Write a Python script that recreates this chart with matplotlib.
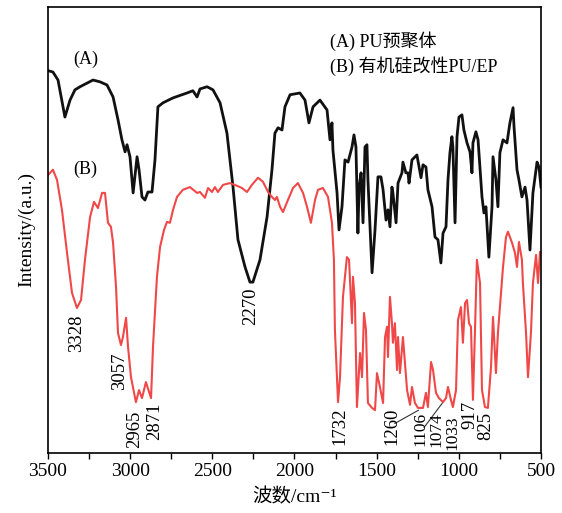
import matplotlib
matplotlib.use('Agg')
import matplotlib.pyplot as plt
import numpy as np

# FTIR spectra, wavenumber in cm^-1, intensity in arbitrary units
wn_a = [3500, 3470, 3439, 3397, 3366, 3336, 3305, 3226, 3184, 3141, 3104, 3074,
        3050, 3031, 3019, 3001, 2982, 2958, 2946, 2928, 2910, 2892, 2867, 2849,
        2831, 2800, 2739, 2654, 2618, 2593, 2575, 2532, 2496, 2453, 2411, 2374,
        2344, 2301, 2271, 2253, 2210, 2167, 2137, 2119, 2100, 2076, 2058, 2027,
        1967, 1936, 1912, 1887, 1845, 1802, 1784, 1772, 1766, 1741, 1729, 1711,
        1693, 1674, 1650, 1638, 1626, 1614, 1607, 1595, 1583, 1571, 1559, 1553,
        1528, 1510, 1492, 1474, 1461, 1443, 1431, 1419, 1407, 1401, 1382, 1370,
        1346, 1340, 1322, 1309, 1303, 1285, 1255, 1242, 1230, 1218, 1200, 1188,
        1163, 1145, 1127, 1109, 1096, 1078, 1066, 1054, 1042, 1036, 1023, 1011,
        999, 981, 969, 950, 932, 920, 914, 896, 883, 859, 847, 835, 817, 798,
        792, 774, 762, 750, 731, 707, 689, 670, 664, 646, 634, 616, 597, 585,
        567, 549, 524, 512, 500]
int_a = [85.7, 85.4, 83.6, 75.3, 79.1, 81.4, 82.1, 83.6, 83.2, 82.5, 79.8, 74.7,
         70.2, 67.5, 69.1, 66.4, 58.3, 66.4, 63.5, 57.4, 56.7, 58.5, 58.5, 65.7,
         77.6, 78.5, 79.6, 80.7, 81.2, 79.8, 81.6, 82.1, 81.4, 78.5, 71.7, 59.6,
         47.8, 41.7, 38.3, 38.3, 43.3, 52.9, 63.5, 71.7, 72.9, 72.4, 77.6, 80.3,
         80.7, 79.1, 74.0, 77.6, 79.1, 76.9, 70.2, 74.0, 67.9, 58.3, 50.0, 55.2,
         65.7, 65.2, 68.6, 71.3, 68.6, 49.3, 59.6, 62.8, 51.6, 68.6, 69.1, 61.2,
         40.4, 50.0, 61.9, 61.9, 59.0, 52.2, 54.5, 50.7, 59.6, 58.3, 51.6, 60.5,
         62.8, 65.2, 62.8, 62.8, 60.5, 65.7, 66.8, 64.1, 61.7, 64.6, 64.1, 59.0,
         55.2, 48.4, 47.8, 42.6, 49.3, 50.7, 61.2, 67.3, 70.9, 68.6, 51.6, 70.9,
         75.3, 75.8, 72.4, 69.5, 67.5, 62.8, 69.5, 72.0, 70.2, 57.4, 53.8, 55.2,
         43.9, 55.2, 66.4, 61.2, 55.2, 67.3, 70.2, 69.5, 74.0, 77.4, 73.1, 63.5,
         61.2, 57.4, 59.6, 56.7, 45.5, 58.3, 65.2, 64.1, 59.6]

wn_b = [3500, 3470, 3445, 3415, 3384, 3354, 3324, 3299, 3275, 3244, 3220, 3196,
        3171, 3153, 3135, 3117, 3104, 3086, 3074, 3056, 3044, 3025, 3013, 2995,
        2965, 2946, 2928, 2904, 2873, 2861, 2837, 2818, 2794, 2776, 2758, 2739,
        2715, 2679, 2636, 2593, 2575, 2545, 2526, 2502, 2484, 2466, 2435, 2393,
        2350, 2320, 2289, 2259, 2222, 2192, 2161, 2137, 2119, 2107, 2088, 2070,
        2040, 2009, 1979, 1948, 1924, 1900, 1875, 1857, 1827, 1796, 1772, 1760,
        1754, 1735, 1723, 1705, 1681, 1668, 1650, 1644, 1632, 1620, 1601, 1589,
        1577, 1565, 1553, 1528, 1510, 1498, 1480, 1461, 1449, 1437, 1431, 1419,
        1407, 1401, 1389, 1376, 1370, 1358, 1340, 1328, 1315, 1297, 1285, 1267,
        1248, 1218, 1200, 1188, 1169, 1157, 1139, 1121, 1096, 1078, 1066, 1048,
        1036, 1017, 1005, 987, 975, 962, 950, 938, 926, 914, 902, 890, 871, 859,
        841, 823, 804, 792, 774, 762, 743, 731, 713, 701, 676, 658, 646, 634,
        616, 610, 591, 579, 561, 549, 530, 518, 506, 500]
int_b = [62.3, 63.5, 61.2, 54.5, 44.8, 35.9, 32.5, 34.3, 43.3, 52.9, 56.3, 54.9,
         58.3, 58.3, 51.6, 50.7, 47.1, 37.2, 26.9, 24.2, 26.0, 30.3, 23.8, 17.0,
         11.4, 14.1, 12.3, 15.9, 12.3, 23.8, 39.5, 46.2, 50.0, 51.8, 51.6, 54.5,
         57.4, 59.0, 59.6, 58.3, 58.5, 57.2, 59.4, 58.5, 59.6, 58.5, 60.1, 60.5,
         59.9, 59.4, 58.5, 60.1, 61.7, 60.8, 58.5, 57.4, 56.7, 57.4, 55.2, 54.0,
         56.7, 59.4, 60.5, 58.3, 55.2, 51.6, 56.7, 59.0, 59.4, 57.4, 51.6, 43.3,
         27.6, 11.4, 17.0, 35.0, 43.9, 43.3, 29.1, 39.5, 33.6, 10.3, 22.4, 17.0,
         31.4, 27.6, 11.2, 10.1, 9.6, 17.9, 14.8, 11.2, 26.0, 28.3, 21.5, 35.0,
         29.1, 24.7, 29.1, 18.6, 26.0, 17.9, 26.0, 20.2, 14.1, 10.8, 14.8, 11.2,
         10.1, 10.1, 13.5, 10.3, 20.4, 18.6, 13.5, 12.3, 11.4, 12.3, 14.8, 11.9,
         10.3, 14.1, 29.8, 32.7, 24.7, 33.6, 34.3, 29.1, 28.3, 11.9, 26.9, 43.3,
         38.1, 14.1, 10.3, 10.1, 19.3, 30.5, 17.9, 26.9, 35.9, 41.7, 48.4, 49.6,
         47.1, 44.8, 41.7, 47.3, 43.3, 38.1, 26.9, 17.0, 26.9, 38.1, 44.4, 38.1,
         45.1, 44.4]

# peak labels: text, label centre, label top, curve point for a leader (or None)
peak_labels = ['3328', '3057', '2965', '2871', '2270', '1732', '1260',
               '1106', '1074', '1033', '917', '825']
label_x = [3324, 3062, 2975, 2850, 2265, 1725, 1410, 1232, 1135, 1038, 930, 835]
label_y = [31.0, 22.6, 9.4, 11.4, 37.0, 10.3, 10.1, 9.2, 9.2, 8.5, 11.6, 9.2]
leader_to = [None, None, None, None, None, None, (1245, 9.6), (1100, 11.2),
             None, None, None, None]

plt.rcParams['font.family'] = ['Liberation Serif', 'Noto Sans CJK SC', 'DejaVu Serif']
plt.rcParams['font.size'] = 14

fig = plt.figure(figsize=(5.62, 5.13), dpi=100)
ax = fig.add_axes([0.0854, 0.117, 0.8772, 0.8696])

ax.plot(wn_a, int_a, color='#111111', lw=2.0, solid_joinstyle='round')
ax.plot(wn_b, int_b, color='#f04848', lw=1.5, solid_joinstyle='round')

for i, lab in enumerate(peak_labels):
    crowded = lab in ('1106', '1074', '1033')
    ax.text(label_x[i], label_y[i], lab, rotation=90, ha='center', va='top',
            fontsize=12.5 if crowded else 13.5, clip_on=False, zorder=5)
    if leader_to[i] is not None:
        ax.annotate('', xy=leader_to[i], xytext=(label_x[i] - 20, label_y[i] - 3.5),
                    arrowprops=dict(arrowstyle='-', color='#333333', lw=0.8,
                                    shrinkA=0, shrinkB=0))

ax.text(3345, 88.2, '(A)', fontsize=13, ha='left', va='center')
ax.text(3345, 63.6, '(B)', fontsize=13, ha='left', va='center')
ax.text(1785, 92.4, '(A) PU预聚体', fontsize=13, ha='left', va='center')
ax.text(1785, 86.8, '(B) 有机硅改性PU/EP', fontsize=13, ha='left', va='center')

ax.set_xlim(3500, 500)
ax.set_ylim(0, 100)
ax.set_xticks([3500, 3000, 2500, 2000, 1500, 1000, 500])
ax.set_xticks(np.arange(500, 3501, 250), minor=True)
ax.set_yticks([])
ax.tick_params(axis='x', which='both', direction='out', length=4, width=1.0,
               labelsize=14, pad=3)
for sp in ax.spines.values():
    sp.set_linewidth(1.2)

ax.set_xlabel('波数/cm⁻¹', fontsize=14, labelpad=6)
ax.set_ylabel('Intensity/(a.u.)', fontsize=14, labelpad=9)

fig.savefig('out.png', dpi=100)
